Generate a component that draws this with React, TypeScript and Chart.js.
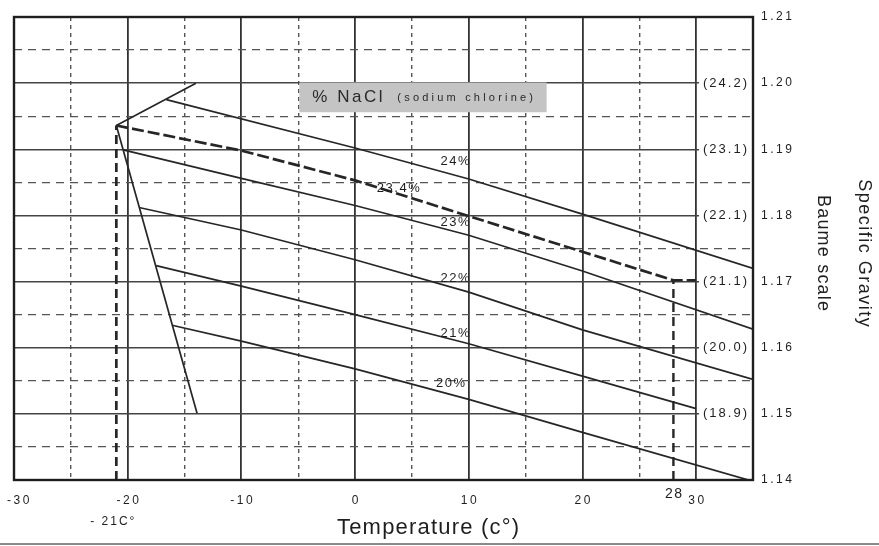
import React, { useEffect, useRef } from "react";
import { Chart, registerables } from "chart.js";

Chart.register(...registerables);

// ---------------- data ----------------
const xTickValues = [-30, -20, -10, 0, 10, 20, 30];
const xTickLabels = ["-30", "-20", "-10", "0", "10", "20", "30"];
const yTickValues = [1.14, 1.15, 1.16, 1.17, 1.18, 1.19, 1.2, 1.21];
const yTickLabels = ["1.14", "1.15", "1.16", "1.17", "1.18", "1.19", "1.20", "1.21"];

const baumeSG = [1.2, 1.19, 1.18, 1.17, 1.16, 1.15];
const baumeLabels = ["(24.2)", "(23.1)", "(22.1)", "(21.1)", "(20.0)", "(18.9)"];

const saltLineT = [-21, -14];
const saltLineSG = [1.1936, 1.2];
const iceLineT = [-21, -13.9];
const iceLineSG = [1.1936, 1.1501];

const nacl24T = [-16.6, 0, 10, 20, 35];
const nacl24SG = [1.1975, 1.1902, 1.1855, 1.1802, 1.172];
const nacl234T = [-21, -10, 0, 10, 20, 28, 30];
const nacl234SG = [1.1936, 1.1898, 1.1853, 1.1799, 1.1745, 1.1702, 1.1702];
const nacl23T = [-20.4, -10, 0, 10, 20, 35];
const nacl23SG = [1.1899, 1.1856, 1.1815, 1.177, 1.1716, 1.1628];
const nacl22T = [-19, -10, 0, 10, 20, 35];
const nacl22SG = [1.1812, 1.1778, 1.1733, 1.1684, 1.1627, 1.1552];
const nacl21T = [-17.5, -10, 0, 10, 20, 30];
const nacl21SG = [1.1724, 1.1693, 1.165, 1.1606, 1.1557, 1.1508];
const nacl20T = [-16.1, -10, 0, 10, 20, 35];
const nacl20SG = [1.1634, 1.161, 1.1568, 1.1522, 1.1472, 1.1398];

const eutecticT = -21;
const eutecticSG = 1.1936;
const saturationT = 28;
const saturationSG = 1.1702;

const pctLabels = ["24%", "23.4%", "23%", "22%", "21%", "20%"];
const pctLabelT = [8.8, 3.8, 8.8, 8.8, 8.8, 8.4];
const pctLabelSG = [1.1881, 1.1841, 1.179, 1.1705, 1.1622, 1.1546];

const boxT = [-4.9, 16.85];
const boxSG = [1.2001, 1.1956];

// ---------------- helpers ----------------
const FONT = "'Liberation Sans', Arial, sans-serif";
const INK = "#1e1e1e";

const pts = (xs: number[], ys: number[]) => xs.map((x, i) => ({ x, y: ys[i] }));

function txt(
  ctx: CanvasRenderingContext2D,
  s: string,
  x: number,
  y: number,
  size: number,
  align: CanvasTextAlign = "center",
  spacing = 0,
  rot = 0,
  color = INK
) {
  ctx.save();
  ctx.font = `${size}px ${FONT}`;
  ctx.fillStyle = color;
  ctx.textBaseline = "middle";
  (ctx as any).letterSpacing = `${spacing}px`;
  ctx.textAlign = align;
  ctx.translate(x, y);
  if (rot) ctx.rotate(rot);
  let dx = 0;
  if (align === "center") dx = spacing / 2;
  else if (align === "right") dx = spacing;
  ctx.fillText(s, dx, 0);
  ctx.restore();
}

const textPlugin = {
  id: "textPlugin",
  beforeDatasetsDraw(chart: any) {
    const { ctx, scales } = chart;
    const x = scales.x;
    const y = scales.y;
    const x1 = x.getPixelForValue(boxT[0]);
    const x2 = x.getPixelForValue(boxT[1]);
    const y1 = y.getPixelForValue(boxSG[0]);
    const y2 = y.getPixelForValue(boxSG[1]);
    ctx.save();
    ctx.fillStyle = "#c4c4c4";
    ctx.fillRect(x1, y1, x2 - x1, y2 - y1);
    ctx.restore();
    const cy = (y1 + y2) / 2;
    txt(ctx, "% NaCl", x1 + 13, cy, 17, "left", 2.5, 0, "#2a2a2a");
    txt(ctx, "(sodium chlorine)", x1 + 98, cy + 1, 11, "left", 3.2, 0, "#2a2a2a");
  },
  afterDatasetsDraw(chart: any) {
    const { ctx, scales, chartArea: a } = chart;
    const x = scales.x;
    const y = scales.y;
    baumeSG.forEach((sg, i) => {
      const py = y.getPixelForValue(sg);
      ctx.save();
      ctx.font = `13px ${FONT}`;
      (ctx as any).letterSpacing = "2px";
      const w = ctx.measureText(baumeLabels[i]).width;
      ctx.fillStyle = "#ffffff";
      ctx.fillRect(a.right - 8 - w, py - 7, w + 7, 14);
      ctx.restore();
      txt(ctx, baumeLabels[i], a.right - 6, py, 13, "right", 2);
    });
    pctLabels.forEach((s, i) => {
      txt(ctx, s, x.getPixelForValue(pctLabelT[i]), y.getPixelForValue(pctLabelSG[i]), 13, "center", 1.5);
    });
    ctx.save();
    ctx.strokeStyle = "#1e1e1e";
    ctx.lineWidth = 2.4;
    ctx.strokeRect(a.left, a.top, a.right - a.left, a.bottom - a.top);
    ctx.restore();
  },
  afterDraw(chart: any) {
    const { ctx, scales, chartArea: a, width, height } = chart;
    const x = scales.x;
    const y = scales.y;
    xTickValues.forEach((v, i) => {
      const px = x.getPixelForValue(v);
      if (i === 0) txt(ctx, xTickLabels[i], px - 7, a.bottom + 21, 12, "left", 2.5);
      else txt(ctx, xTickLabels[i], px, a.bottom + 21, 12, "center", 2.5);
    });
    yTickValues.forEach((v, i) => {
      txt(ctx, yTickLabels[i], a.right + 8, y.getPixelForValue(v), 12, "left", 2.5);
    });
    txt(ctx, String(saturationT), x.getPixelForValue(saturationT), a.bottom + 14, 14, "center", 1.5);
    txt(ctx, "- 21C\u00b0", x.getPixelForValue(eutecticT) - 4, a.bottom + 42, 12, "center", 2);
    txt(ctx, "Temperature (c\u00b0)", 428, 528, 22, "center", 1.2);
    txt(ctx, "Specific Gravity", 864, 253, 18, "center", 1.5, Math.PI / 2);
    txt(ctx, "Baume scale", 823, 253, 18, "center", 1.2, Math.PI / 2);
    ctx.save();
    ctx.strokeStyle = "#8a8a8a";
    ctx.lineWidth = 2;
    ctx.beginPath();
    ctx.moveTo(0, height - 2);
    ctx.lineTo(width, height - 2);
    ctx.stroke();
    ctx.restore();
  },
};

const lineDs = (data: { x: number; y: number }[], extra: any = {}) => ({
  data,
  showLine: true,
  borderColor: "#262626",
  borderWidth: 1.7,
  pointRadius: 0,
  fill: false,
  tension: 0,
  ...extra,
});

export default function App() {
  const ref = useRef<HTMLCanvasElement | null>(null);

  useEffect(() => {
    if (!ref.current) return;
    const chart = new Chart(ref.current, {
      type: "scatter",
      data: {
        datasets: [
          lineDs(pts(saltLineT, saltLineSG)),
          lineDs(pts(iceLineT, iceLineSG)),
          lineDs(pts(nacl24T, nacl24SG)),
          lineDs(pts(nacl234T, nacl234SG), { borderDash: [12, 4], borderWidth: 2.7 }),
          lineDs(pts(nacl23T, nacl23SG)),
          lineDs(pts(nacl22T, nacl22SG)),
          lineDs(pts(nacl21T, nacl21SG)),
          lineDs(pts(nacl20T, nacl20SG)),
          lineDs(pts([eutecticT, eutecticT], [1.14, eutecticSG]), { borderDash: [9, 5], borderWidth: 2.7 }),
          lineDs(pts([saturationT, saturationT], [1.14, saturationSG]), { borderDash: [9, 5], borderWidth: 2.4 }),
        ] as any,
      },
      options: {
        animation: false,
        responsive: false,
        devicePixelRatio: 1,
        layout: { padding: { left: 14, top: 17, right: 126, bottom: 66 } },
        plugins: { legend: { display: false }, tooltip: { enabled: false } },
        scales: {
          x: {
            type: "linear",
            min: -30,
            max: 35,
            position: "bottom",
            ticks: { display: false, stepSize: 5 },
            grid: {
              drawTicks: false,
              color: (c: any) => (c.tick && Math.round(c.tick.value) % 10 === 0 ? "#333" : "#555"),
              lineWidth: (c: any) => (c.tick && Math.round(c.tick.value) % 10 === 0 ? 1.8 : 1.4),
            },
            border: {
              display: false,
              dash: (c: any) => (c.tick && Math.round(c.tick.value) % 10 !== 0 ? [4, 4] : []),
            },
          },
          y: {
            type: "linear",
            min: 1.14,
            max: 1.21,
            position: "right",
            ticks: { display: false, stepSize: 0.005 },
            grid: {
              drawTicks: false,
              color: (c: any) => (c.tick && Math.round(c.tick.value * 1000) % 10 === 0 ? "#444" : "#555"),
              lineWidth: (c: any) => (c.tick && Math.round(c.tick.value * 1000) % 10 === 0 ? 1.5 : 1.3),
            },
            border: {
              display: false,
              dash: (c: any) => (c.tick && Math.round(c.tick.value * 1000) % 10 !== 0 ? [8, 6] : []),
            },
          },
        },
      } as any,
      plugins: [textPlugin],
    });
    return () => chart.destroy();
  }, []);

  return (
    <div style={{ position: "fixed", left: 0, top: 0, width: 879, height: 546, background: "#fff" }}>
      <canvas ref={ref} width={879} height={546} style={{ display: "block" }} />
    </div>
  );
}
